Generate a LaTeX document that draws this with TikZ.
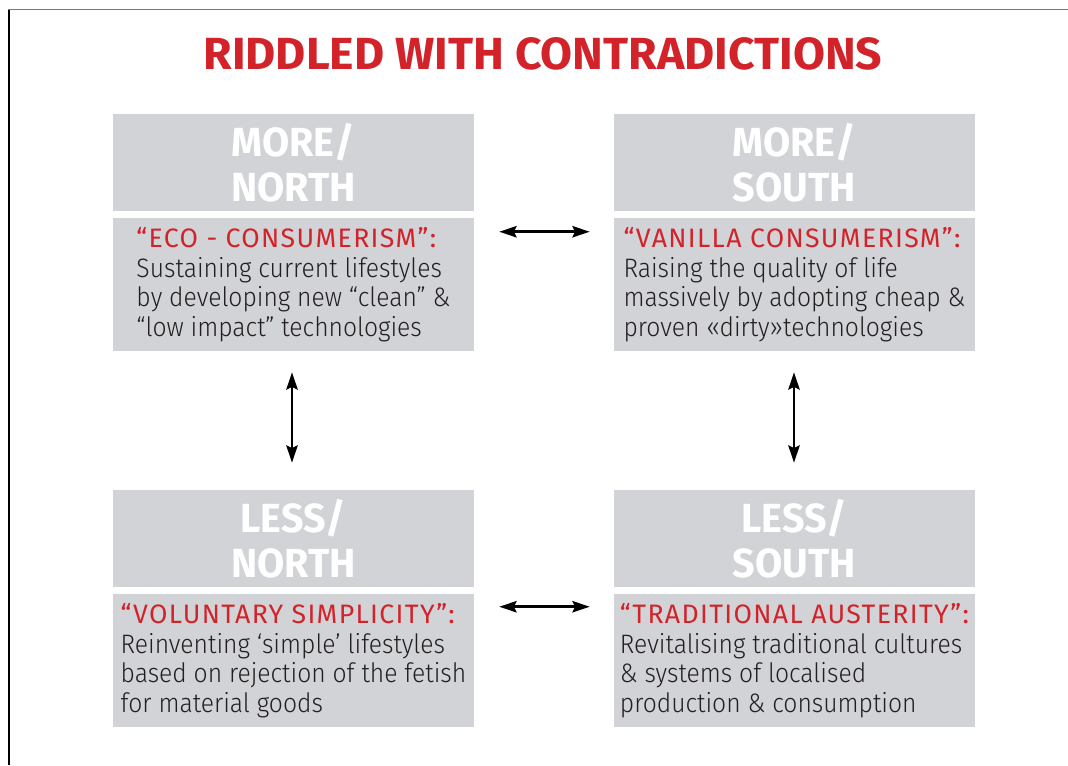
\documentclass[tikz,border=0pt]{standalone}
\usepackage{fontspec}
\setmainfont{Fira Sans}
\newfontfamily\titlefont[FakeStretch=1.03]{Fira Sans}
\newfontfamily\headfont[FakeStretch=0.97]{Fira Sans}
\newfontfamily\redfont[FakeStretch=1.0,LetterSpace=5]{Fira Sans}
\newfontfamily\bodyfont[FakeStretch=0.925]{Fira Sans Light}
\usetikzlibrary{arrows.meta}
\definecolor{boxgray}{HTML}{D1D3D7}
\definecolor{titlered}{HTML}{D2232A}
\definecolor{textdark}{HTML}{231F20}
\definecolor{framegray}{HTML}{7A7A7A}
\tikzset{
  hbox/.style={rectangle, fill=boxgray, minimum width=270.75pt, minimum height=72.75pt,
    inner sep=0pt, text=white, align=center,
    font=\headfont\bfseries\fontsize{30.5}{33.75}\selectfont},
  dbox/.style={rectangle, fill=boxgray, minimum width=270.75pt, minimum height=99.75pt,
    inner sep=0pt, text=textdark, align=left,
    font=\bodyfont\fontsize{20}{22.1}\selectfont},
  arr/.style={{Stealth[length=13pt,width=8.5pt,inset=2pt]}-{Stealth[length=13pt,width=8.5pt,inset=2pt]}, line width=2pt, black}
}
\newcommand{\redhead}[1]{{\redfont\color{titlered}#1}}
\begin{document}
\begin{tikzpicture}[x=0.75pt,y=-0.75pt]
\useasboundingbox (0,0) rectangle (1068,765);
\draw[framegray, line width=1.4pt] (8,9.5) -- (1068,9.5);
\draw[black, line width=0.9pt] (9,9.5) -- (9,765);
\node[anchor=base, text=titlered, font=\titlefont\bfseries\fontsize{33.75}{36}\selectfont] (title) at (543,69) {RIDDLED WITH CONTRADICTIONS};
% top left
\node[hbox] (tlH) at (293.5,162.5) {MORE/\\NORTH};
\node[dbox] (tlD) at (293.5,284.5) {\redhead{“ECO - CONSUMERISM”:}\\Sustaining current lifestyles\\by developing new “clean” \&\\“low impact” technologies};
% top right
\node[hbox] (trH) at (794.5,162.5) {MORE/\\SOUTH};
\node[dbox] (trD) at (794.5,284.5) {\redhead{“VANILLA CONSUMERISM”:}\\Raising the quality of life\\massively by adopting cheap \&\\proven «dirty»technologies};
% bottom left
\node[hbox] (blH) at (293.5,538.5) {LESS/\\NORTH};
\node[dbox] (blD) at (293.5,660.5) {\redhead{“VOLUNTARY SIMPLICITY”:}\\Reinventing ‘simple’ lifestyles\\based on rejection of the fetish\\for material goods};
% bottom right
\node[hbox] (brH) at (794.5,538.5) {LESS/\\SOUTH};
\node[dbox] (brD) at (794.5,660.5) {\redhead{“TRADITIONAL AUSTERITY”:}\\Revitalising traditional cultures\\\& systems of localised\\production \& consumption};
% arrows
\draw[arr] ([shift={(25,14)}]tlD.north east) -- ([shift={(-24,14)}]trD.north west);
\draw[arr] ([shift={(25,13)}]blD.north east) -- ([shift={(-24,13)}]brD.north west);
\draw[arr] ([shift={(-1.5,21)}]tlD.south) -- ([shift={(-1.5,-27)}]blH.north);
\draw[arr] ([shift={(-0.5,21)}]trD.south) -- ([shift={(-0.5,-27)}]brH.north);
\end{tikzpicture}
\end{document}
